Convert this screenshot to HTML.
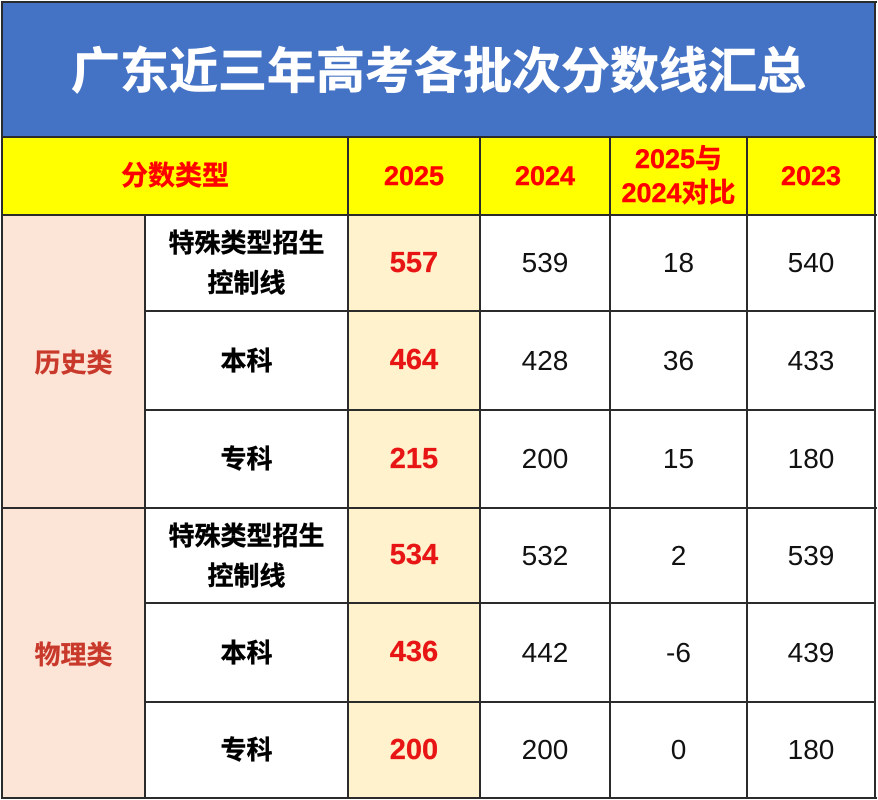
<!DOCTYPE html>
<html><head><meta charset="utf-8">
<style>
html,body{margin:0;padding:0;background:#fff;}
body{width:878px;height:800px;position:relative;overflow:hidden;font-family:"Liberation Sans","Noto Sans CJK SC",sans-serif;}
.c{position:absolute;display:flex;align-items:center;justify-content:center;text-align:center;box-sizing:border-box;}
.h{position:absolute;background:#2b2b2b;height:2px;}
.v{position:absolute;background:#2b2b2b;width:2px;}
.title{color:#fff;font-weight:bold;font-size:49px;letter-spacing:0px;-webkit-text-stroke:0.6px #fff;}
.hd{color:#f00;font-weight:bold;font-size:27px;line-height:34px;-webkit-text-stroke:0.4px #f00;}
.lab{color:#000;font-weight:bold;font-size:26px;line-height:40px;-webkit-text-stroke:0.4px #000;}
.grp{color:#c8392b;font-weight:bold;font-size:26px;-webkit-text-stroke:0.3px #c8392b;}
.r{color:#e81515;font-weight:bold;font-size:29px;-webkit-text-stroke:0.3px #e81515;}
.n{color:#111;font-size:28px;}
</style></head><body>
<!-- backgrounds -->
<div class="c title" style="left:2px;top:2px;width:873px;height:135px;background:#4472c4;"><span style="position:relative;top:-2px;">广东近三年高考各批次分数线汇总</span></div>
<div class="c" style="left:2px;top:137px;width:873px;height:78px;background:#ffff00;"></div>
<div class="c" style="left:2px;top:215px;width:143px;height:583px;background:#fce4d6;"></div>
<div class="c" style="left:348px;top:215px;width:132px;height:583px;background:#fff2cc;"></div>

<!-- header texts -->
<div class="c hd" style="left:2px;top:137px;width:346px;height:78px;">分数类型</div>
<div class="c hd" style="left:348px;top:137px;width:132px;height:78px;">2025</div>
<div class="c hd" style="left:480px;top:137px;width:130px;height:78px;">2024</div>
<div class="c hd" style="left:610px;top:137px;width:137px;height:78px;">2025与<br>2024对比</div>
<div class="c hd" style="left:747px;top:137px;width:128px;height:78px;">2023</div>

<!-- group labels -->
<div class="c grp" style="left:2px;top:215px;width:143px;height:293px;">历史类</div>
<div class="c grp" style="left:2px;top:508px;width:143px;height:290px;">物理类</div>

<!-- row labels -->
<div class="c lab" style="left:145px;top:215px;width:203px;height:96px;">特殊类型招生<br>控制线</div>
<div class="c lab" style="left:145px;top:311px;width:203px;height:99px;">本科</div>
<div class="c lab" style="left:145px;top:410px;width:203px;height:98px;">专科</div>
<div class="c lab" style="left:145px;top:508px;width:203px;height:95px;">特殊类型招生<br>控制线</div>
<div class="c lab" style="left:145px;top:603px;width:203px;height:99px;">本科</div>
<div class="c lab" style="left:145px;top:702px;width:203px;height:96px;">专科</div>

<!-- 2025 column -->
<div class="c r" style="left:348px;top:215px;width:132px;height:96px;">557</div>
<div class="c r" style="left:348px;top:311px;width:132px;height:99px;">464</div>
<div class="c r" style="left:348px;top:410px;width:132px;height:98px;">215</div>
<div class="c r" style="left:348px;top:508px;width:132px;height:95px;">534</div>
<div class="c r" style="left:348px;top:603px;width:132px;height:99px;">436</div>
<div class="c r" style="left:348px;top:702px;width:132px;height:96px;">200</div>

<!-- 2024 column -->
<div class="c n" style="left:480px;top:215px;width:130px;height:96px;">539</div>
<div class="c n" style="left:480px;top:311px;width:130px;height:99px;">428</div>
<div class="c n" style="left:480px;top:410px;width:130px;height:98px;">200</div>
<div class="c n" style="left:480px;top:508px;width:130px;height:95px;">532</div>
<div class="c n" style="left:480px;top:603px;width:130px;height:99px;">442</div>
<div class="c n" style="left:480px;top:702px;width:130px;height:96px;">200</div>

<!-- diff column -->
<div class="c n" style="left:610px;top:215px;width:137px;height:96px;">18</div>
<div class="c n" style="left:610px;top:311px;width:137px;height:99px;">36</div>
<div class="c n" style="left:610px;top:410px;width:137px;height:98px;">15</div>
<div class="c n" style="left:610px;top:508px;width:137px;height:95px;">2</div>
<div class="c n" style="left:610px;top:603px;width:137px;height:99px;">-6</div>
<div class="c n" style="left:610px;top:702px;width:137px;height:96px;">0</div>

<!-- 2023 column -->
<div class="c n" style="left:747px;top:215px;width:128px;height:96px;">540</div>
<div class="c n" style="left:747px;top:311px;width:128px;height:99px;">433</div>
<div class="c n" style="left:747px;top:410px;width:128px;height:98px;">180</div>
<div class="c n" style="left:747px;top:508px;width:128px;height:95px;">539</div>
<div class="c n" style="left:747px;top:603px;width:128px;height:99px;">439</div>
<div class="c n" style="left:747px;top:702px;width:128px;height:96px;">180</div>

<!-- horizontal lines -->
<div class="h" style="left:1px;top:1px;width:876px;"></div>
<div class="h" style="left:1px;top:136px;width:876px;"></div>
<div class="h" style="left:1px;top:214px;width:876px;"></div>
<div class="h" style="left:145px;top:310px;width:731px;"></div>
<div class="h" style="left:145px;top:409px;width:731px;"></div>
<div class="h" style="left:1px;top:507px;width:876px;"></div>
<div class="h" style="left:145px;top:602px;width:731px;"></div>
<div class="h" style="left:145px;top:701px;width:731px;"></div>
<div class="h" style="left:1px;top:797px;width:876px;"></div>

<!-- vertical lines -->
<div class="v" style="left:1px;top:1px;height:798px;"></div>
<div class="v" style="left:874px;top:1px;height:798px;"></div>
<div class="v" style="left:144px;top:215px;height:583px;"></div>
<div class="v" style="left:347px;top:137px;height:661px;"></div>
<div class="v" style="left:479px;top:137px;height:661px;"></div>
<div class="v" style="left:609px;top:137px;height:661px;"></div>
<div class="v" style="left:746px;top:137px;height:661px;"></div>
</body></html>
